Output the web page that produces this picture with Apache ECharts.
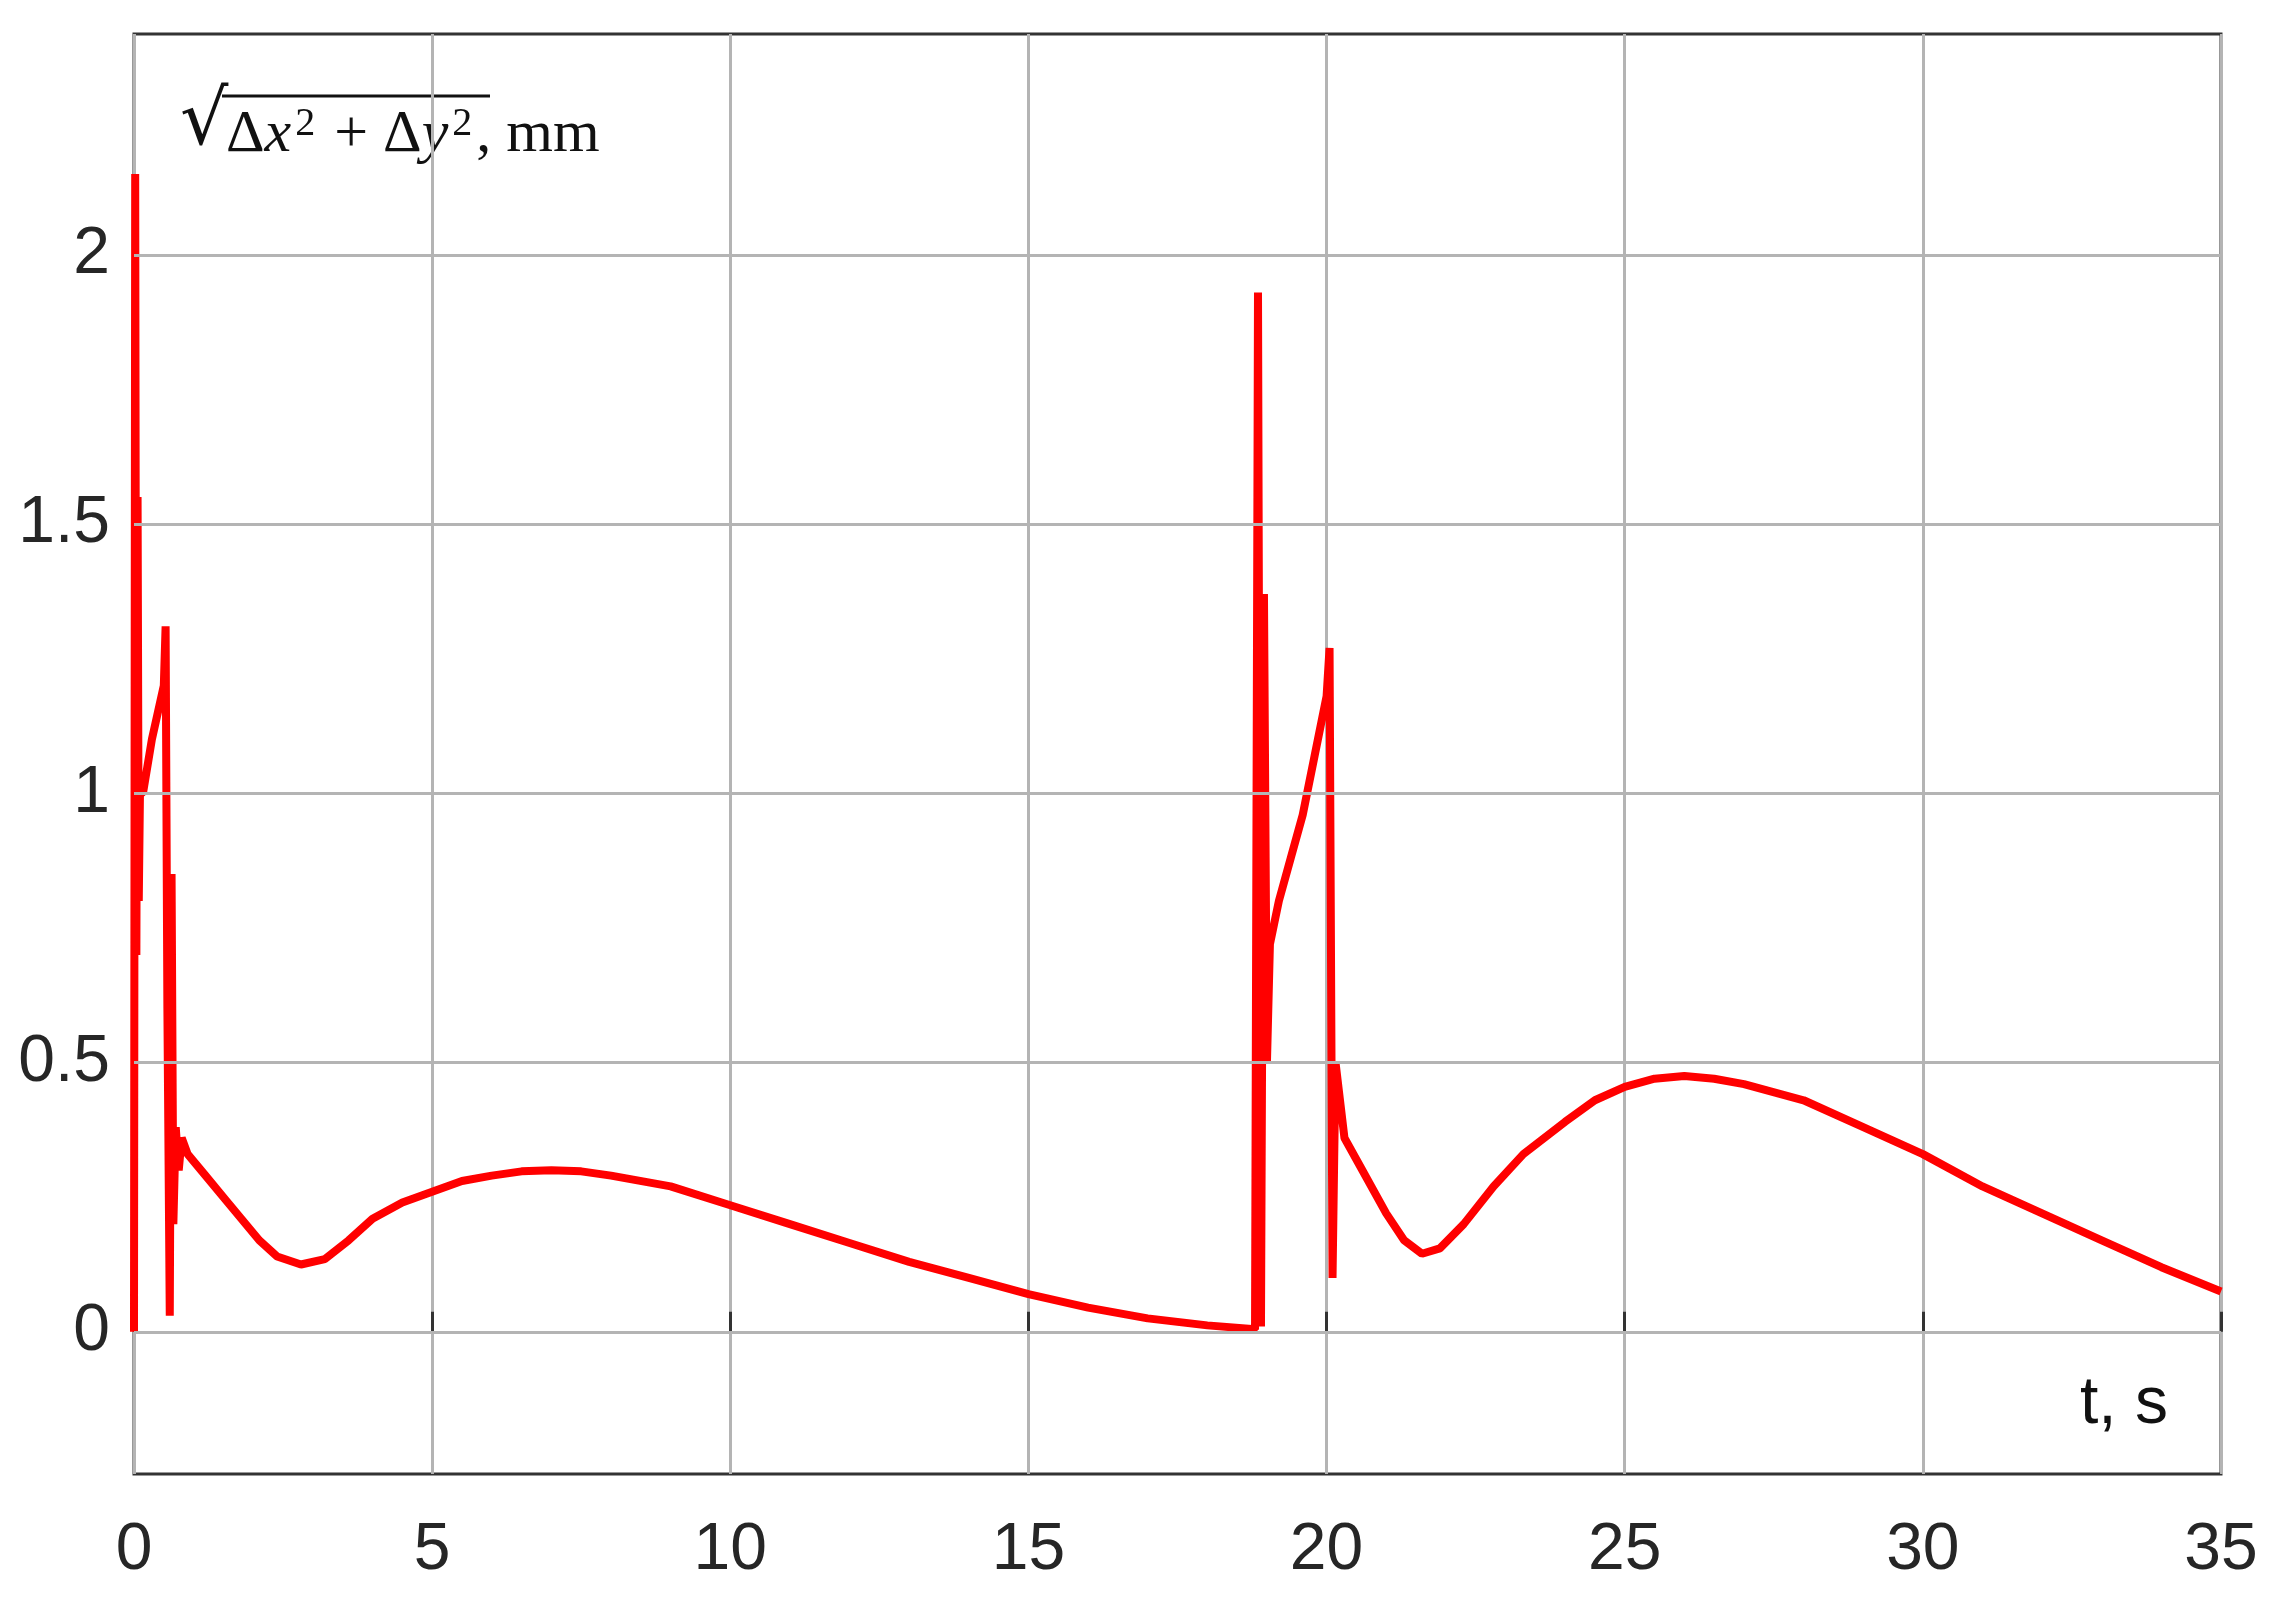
<!DOCTYPE html>
<html>
<head>
<meta charset="utf-8">
<script src="https://cdn.jsdelivr.net/npm/echarts@6/dist/echarts.min.js"></script>
<style>html,body{margin:0;padding:0;background:#fff}#chart{width:2274px;height:1602px}</style>
</head>
<body>
<div id="chart"></div>
<script>
// t, s
const timeValues = [0, 0.02, 0.04, 0.06, 0.08, 0.1, 0.15, 0.3, 0.5, 0.53, 0.56, 0.6, 0.63, 0.66, 0.7, 0.75, 0.8, 0.9,
  1.2, 1.5, 1.8, 2.1, 2.4, 2.8, 3.2, 3.6, 4.0, 4.5, 5, 5.5, 6, 6.5, 7, 7.5, 8, 9, 10, 11, 12, 13, 14, 15, 16, 17, 18, 18.8,
  18.85, 18.9, 18.95, 19, 19.05, 19.2, 19.4, 19.6, 19.8, 20, 20.05, 20.1, 20.15, 20.3, 20.6, 21, 21.3, 21.6, 21.9, 22.3,
  22.8, 23.3, 24, 24.5, 25, 25.5, 26, 26.5, 27, 28, 29, 30, 31, 32, 33, 34, 35];
// sqrt(dx^2+dy^2), mm
const errorValues = [0.0, 2.15, 0.7, 1.55, 0.8, 1.0, 1.0, 1.1, 1.2, 1.31, 0.6, 0.03, 0.85, 0.2, 0.38, 0.3, 0.36, 0.33,
  0.29, 0.25, 0.21, 0.17, 0.14, 0.125, 0.135, 0.17, 0.21, 0.24, 0.26, 0.28, 0.29, 0.298, 0.3, 0.298, 0.29, 0.27, 0.235,
  0.2, 0.165, 0.13, 0.1, 0.07, 0.045, 0.025, 0.012, 0.005,
  1.93, 0.01, 1.37, 0.5, 0.72, 0.8, 0.88, 0.96, 1.07, 1.18, 1.27, 0.1, 0.5, 0.36, 0.3, 0.22, 0.17, 0.145, 0.155, 0.2,
  0.27, 0.33, 0.39, 0.43, 0.455, 0.47, 0.475, 0.47, 0.46, 0.43, 0.38, 0.33, 0.27, 0.22, 0.17, 0.12, 0.075];
const yTicks = [0, 0.5, 1, 1.5, 2];

const chart = echarts.init(document.getElementById('chart'));
const labelStyle = { fontFamily: 'Liberation Sans, Arial', fontSize: 66, color: '#262626' };
chart.setOption({
  animation: false,
  grid: { left: 134, top: 34, right: 53, bottom: 128, show: true, borderColor: '#333', borderWidth: 3 },
  xAxis: {
    type: 'value', min: 0, max: 35, interval: 5,
    axisLine: { show: false },
    axisTick: { inside: true, length: 20, lineStyle: { color: '#333', width: 3 } },
    axisLabel: Object.assign({ margin: 44, showMaxLabel: true }, labelStyle),
    splitLine: { lineStyle: { color: '#b4b4b4', width: 3 } }
  },
  yAxis: {
    type: 'value', min: -0.264, max: 2.41,
    axisLine: { show: false },
    axisTick: { show: false },
    axisLabel: Object.assign({ margin: 24, customValues: yTicks }, labelStyle),
    splitLine: { show: false }
  },
  graphic: [
    { type: 'text', left: 2080, top: 1372, style: { text: 't, s', font: '66px Liberation Sans, Arial', fill: '#111' } },
    { type: 'text', left: 180, top: 86, style: { text: '√', font: '76px DejaVu Serif', fill: '#111' } },
    { type: 'line', shape: { x1: 222, y1: 96, x2: 490, y2: 96 }, style: { stroke: '#111', lineWidth: 3 } },
    { type: 'text', left: 226, top: 104, style: {
      rich: {
        n: { font: '60px Liberation Serif', fill: '#111' },
        i: { font: 'italic 60px Liberation Serif', fill: '#111' },
        s: { font: '40px Liberation Serif', fill: '#111', verticalAlign: 'top', padding: [0, 4, 22, 4] }
      },
      text: '{n|Δ}{i|x}{s|2}{n| + Δ}{i|y}{s|2}{n|, mm}'
    } }
  ],
  series: [{
    type: 'line', showSymbol: false,
    data: timeValues.map((t, i) => [t, errorValues[i]]),
    lineStyle: { color: '#ff0000', width: 8 },
    markLine: {
      silent: true, symbol: 'none', label: { show: false },
      lineStyle: { color: '#b4b4b4', width: 3, type: 'solid' },
      data: yTicks.map(v => ({ yAxis: v }))
    },
    z: 3
  }]
});
</script>
</body>
</html>
